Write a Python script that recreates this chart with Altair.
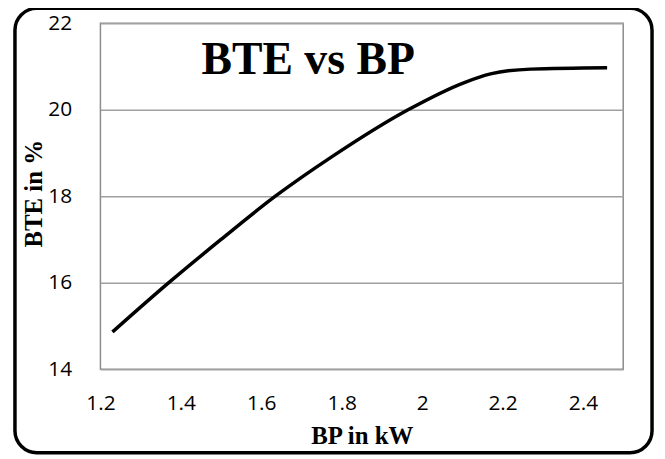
import altair as alt
import pandas as pd

# Data
bp_kw = [1.23, 1.37, 1.50, 1.635, 1.775, 1.965, 2.105, 2.17, 2.27, 2.46]
bte_pct = [14.86, 16.0, 17.0, 18.0, 18.91, 20.0, 20.63, 20.83, 20.94, 20.97]
x_ticks = [1.2, 1.4, 1.6, 1.8, 2.0, 2.2, 2.4]
y_ticks = [14, 16, 18, 20, 22]
chart_title = "BTE vs BP"

df = pd.DataFrame({"BP": bp_kw, "BTE": bte_pct})

W, H = 526, 348
SERIF = "Liberation Serif, Times New Roman, serif"

line = alt.Chart(df).mark_line(color="black", strokeWidth=3.5, interpolate="monotone").encode(
    x=alt.X("BP:Q",
            scale=alt.Scale(domain=[1.2, 2.5], nice=False, zero=False),
            axis=alt.Axis(values=x_ticks, title="BP in kW", grid=False, ticks=False, domain=False,
                          format=".1~f", labelPadding=24, labelFlush=False,
                          titlePadding=10)),
    y=alt.Y("BTE:Q",
            scale=alt.Scale(domain=[14, 22], nice=False, zero=False),
            axis=alt.Axis(values=y_ticks, title="BTE in %", grid=True, gridColor="#a0a0a0",
                          gridWidth=1.5, ticks=False, domain=False,
                          labelPadding=29, labelFlush=False,
                          titleX=-67, titleY=171, titleAlign="center",
                          titleBaseline="middle", titleAngle=270)),
)

title_text = alt.Chart(pd.DataFrame({"t": [chart_title]})).mark_text(
    font=SERIF, fontWeight="bold", fontSize=46, color="black",
    align="center", baseline="alphabetic"
).encode(text="t:N", x=alt.value(209), y=alt.value(51))

border = alt.Chart(pd.DataFrame({"b": [0]})).mark_rect(
    fill=None, fillOpacity=0, stroke="black", strokeWidth=3.5, cornerRadius=22, clip=False
).encode(x=alt.value(-86), x2=alt.value(555), y=alt.value(-15), y2=alt.value(432))

chart = alt.layer(border, line, title_text).properties(
    width=W, height=H,
    autosize=alt.AutoSizeParams(type="none"),
    padding={"left": 93, "top": 14, "right": 34, "bottom": 88},
    background="white",
).configure_view(stroke="#8c8c8c", strokeWidth=1.5).configure_axis(
    labelFont="Open Sans", labelFontSize=21, labelFontWeight="normal", labelColor="black",
    titleFont=SERIF, titleFontWeight="bold", titleFontSize=25, titleColor="black",
)

chart.save("out.html", embed_options={"renderer": "svg", "actions": False})
